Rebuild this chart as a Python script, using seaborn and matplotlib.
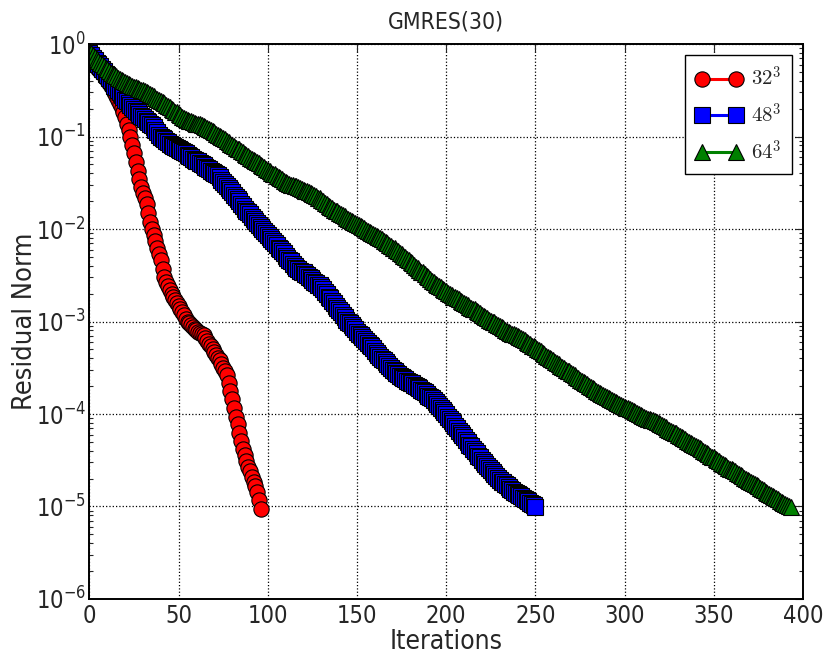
import numpy as np
import pandas as pd
import matplotlib
matplotlib.use("Agg")
import matplotlib.pyplot as plt
import seaborn as sns
from matplotlib.ticker import LogLocator, NullFormatter

# ---- data: -log10(residual norm) per iteration ----
neglog_32 = [
    0.19, 0.20, 0.22, 0.23, 0.25, 0.27, 0.29, 0.31, 0.34, 0.36,
    0.39, 0.42, 0.45, 0.48, 0.52, 0.56, 0.60, 0.65, 0.69, 0.74,
    0.79, 0.86, 0.93, 1.00, 1.09, 1.18, 1.28, 1.37, 1.46, 1.55,
    1.61, 1.67, 1.73, 1.83, 1.92, 2.00, 2.07, 2.13, 2.20, 2.27,
    2.34, 2.43, 2.52, 2.57, 2.62, 2.66, 2.70, 2.74, 2.77, 2.80,
    2.83, 2.86, 2.90, 2.93, 2.97, 3.00, 3.02, 3.04, 3.06, 3.08,
    3.09, 3.11, 3.12, 3.14, 3.15, 3.18, 3.21, 3.24, 3.27, 3.30,
    3.33, 3.36, 3.39, 3.42, 3.46, 3.50, 3.54, 3.58, 3.66, 3.75,
    3.84, 3.93, 4.03, 4.11, 4.20, 4.29, 4.38, 4.44, 4.51, 4.57,
    4.62, 4.68, 4.73, 4.78, 4.84, 4.93, 5.03,
]

neglog_48 = [
    0.10, 0.12, 0.15, 0.17, 0.20, 0.22, 0.24, 0.27, 0.29, 0.32,
    0.34, 0.37, 0.39, 0.42, 0.45, 0.47, 0.50, 0.52, 0.55, 0.57,
    0.60, 0.62, 0.64, 0.66, 0.68, 0.70, 0.72, 0.74, 0.76, 0.78,
    0.79, 0.81, 0.83, 0.84, 0.86, 0.88, 0.90, 0.93, 0.95, 0.98,
    1.00, 1.02, 1.03, 1.05, 1.06, 1.08, 1.09, 1.10, 1.11, 1.12,
    1.13, 1.15, 1.16, 1.17, 1.18, 1.20, 1.21, 1.22, 1.24, 1.25,
    1.26, 1.27, 1.29, 1.30, 1.31, 1.33, 1.34, 1.35, 1.37, 1.38,
    1.39, 1.41, 1.42, 1.44, 1.47, 1.49, 1.51, 1.53, 1.56, 1.58,
    1.60, 1.63, 1.65, 1.68, 1.70, 1.73, 1.75, 1.78, 1.80, 1.82,
    1.84, 1.87, 1.89, 1.91, 1.93, 1.96, 1.98, 2.00, 2.02, 2.04,
    2.07, 2.09, 2.11, 2.13, 2.15, 2.17, 2.20, 2.22, 2.24, 2.26,
    2.29, 2.31, 2.33, 2.35, 2.38, 2.40, 2.42, 2.43, 2.45, 2.46,
    2.47, 2.49, 2.50, 2.52, 2.53, 2.55, 2.57, 2.58, 2.60, 2.61,
    2.63, 2.65, 2.68, 2.70, 2.73, 2.75, 2.78, 2.80, 2.83, 2.85,
    2.88, 2.90, 2.93, 2.95, 2.98, 3.00, 3.02, 3.04, 3.06, 3.08,
    3.11, 3.13, 3.15, 3.17, 3.19, 3.21, 3.23, 3.25, 3.27, 3.29,
    3.32, 3.34, 3.36, 3.38, 3.40, 3.42, 3.44, 3.46, 3.48, 3.50,
    3.52, 3.54, 3.56, 3.57, 3.59, 3.60, 3.61, 3.62, 3.64, 3.65,
    3.66, 3.67, 3.69, 3.70, 3.71, 3.72, 3.74, 3.75, 3.76, 3.78,
    3.80, 3.82, 3.83, 3.85, 3.87, 3.89, 3.91, 3.93, 3.96, 3.98,
    4.00, 4.03, 4.05, 4.08, 4.10, 4.13, 4.15, 4.18, 4.20, 4.23,
    4.25, 4.28, 4.30, 4.33, 4.35, 4.38, 4.40, 4.42, 4.45, 4.47,
    4.50, 4.52, 4.54, 4.56, 4.58, 4.61, 4.63, 4.65, 4.67, 4.69,
    4.71, 4.73, 4.74, 4.76, 4.77, 4.79, 4.81, 4.82, 4.84, 4.85,
    4.87, 4.88, 4.89, 4.91, 4.92, 4.93, 4.94, 4.96, 4.97, 4.98,
    5.01,
]

neglog_64 = [
    0.08, 0.10, 0.12, 0.14, 0.16, 0.18, 0.20, 0.22, 0.24, 0.26,
    0.27, 0.29, 0.31, 0.32, 0.34, 0.35, 0.37, 0.38, 0.39, 0.40,
    0.41, 0.42, 0.43, 0.44, 0.45, 0.46, 0.47, 0.48, 0.49, 0.50,
    0.50, 0.51, 0.52, 0.53, 0.54, 0.55, 0.56, 0.58, 0.59, 0.60,
    0.62, 0.63, 0.64, 0.66, 0.67, 0.68, 0.70, 0.71, 0.73, 0.74,
    0.76, 0.77, 0.79, 0.80, 0.81, 0.82, 0.83, 0.83, 0.84, 0.85,
    0.86, 0.87, 0.87, 0.88, 0.89, 0.90, 0.91, 0.92, 0.93, 0.94,
    0.95, 0.97, 0.98, 0.99, 1.01, 1.02, 1.03, 1.05, 1.06, 1.08,
    1.09, 1.10, 1.12, 1.13, 1.14, 1.16, 1.17, 1.19, 1.20, 1.21,
    1.23, 1.24, 1.25, 1.27, 1.28, 1.29, 1.31, 1.32, 1.33, 1.35,
    1.36, 1.37, 1.39, 1.40, 1.41, 1.43, 1.44, 1.45, 1.46, 1.48,
    1.49, 1.50, 1.51, 1.52, 1.52, 1.53, 1.54, 1.55, 1.56, 1.57,
    1.58, 1.59, 1.59, 1.60, 1.61, 1.62, 1.63, 1.64, 1.66, 1.67,
    1.69, 1.70, 1.72, 1.73, 1.75, 1.76, 1.77, 1.79, 1.80, 1.81,
    1.83, 1.84, 1.85, 1.86, 1.88, 1.89, 1.90, 1.91, 1.92, 1.93,
    1.95, 1.96, 1.97, 1.98, 1.99, 2.01, 2.02, 2.03, 2.04, 2.05,
    2.07, 2.08, 2.09, 2.10, 2.11, 2.13, 2.14, 2.15, 2.17, 2.18,
    2.20, 2.21, 2.23, 2.24, 2.26, 2.27, 2.29, 2.30, 2.32, 2.34,
    2.36, 2.37, 2.39, 2.41, 2.42, 2.44, 2.46, 2.47, 2.49, 2.51,
    2.52, 2.54, 2.56, 2.57, 2.59, 2.60, 2.62, 2.63, 2.65, 2.66,
    2.67, 2.69, 2.70, 2.71, 2.73, 2.74, 2.75, 2.76, 2.78, 2.79,
    2.80, 2.81, 2.82, 2.84, 2.85, 2.86, 2.87, 2.89, 2.90, 2.91,
    2.93, 2.94, 2.95, 2.96, 2.98, 2.99, 3.00, 3.01, 3.03, 3.04,
    3.05, 3.06, 3.07, 3.09, 3.10, 3.11, 3.12, 3.13, 3.14, 3.15,
    3.16, 3.17, 3.18, 3.19, 3.20, 3.22, 3.23, 3.24, 3.26, 3.27,
    3.28, 3.30, 3.31, 3.32, 3.34, 3.35, 3.37, 3.38, 3.39, 3.41,
    3.42, 3.44, 3.45, 3.46, 3.48, 3.49, 3.50, 3.52, 3.53, 3.54,
    3.56, 3.57, 3.58, 3.60, 3.61, 3.63, 3.64, 3.65, 3.67, 3.68,
    3.70, 3.71, 3.72, 3.73, 3.75, 3.76, 3.77, 3.78, 3.79, 3.81,
    3.82, 3.83, 3.84, 3.85, 3.86, 3.87, 3.88, 3.89, 3.90, 3.91,
    3.92, 3.93, 3.94, 3.95, 3.96, 3.97, 3.98, 3.99, 4.00, 4.01,
    4.02, 4.03, 4.04, 4.05, 4.05, 4.06, 4.07, 4.08, 4.09, 4.10,
    4.11, 4.12, 4.13, 4.14, 4.16, 4.17, 4.18, 4.19, 4.20, 4.21,
    4.23, 4.24, 4.25, 4.26, 4.27, 4.29, 4.30, 4.31, 4.32, 4.34,
    4.35, 4.36, 4.37, 4.38, 4.40, 4.41, 4.42, 4.43, 4.45, 4.46,
    4.47, 4.49, 4.50, 4.51, 4.53, 4.54, 4.55, 4.56, 4.58, 4.59,
    4.60, 4.61, 4.62, 4.64, 4.65, 4.66, 4.67, 4.69, 4.70, 4.71,
    4.72, 4.73, 4.75, 4.76, 4.77, 4.78, 4.80, 4.81, 4.82, 4.84,
    4.85, 4.86, 4.88, 4.89, 4.90, 4.91, 4.92, 4.94, 4.95, 4.96,
    4.97, 4.98, 4.99, 5.01,
]

series_labels = [r"$32^3$", r"$48^3$", r"$64^3$"]
series_colors = ["#ff0000", "#0000ff", "#008000"]
series_markers = ["o", "s", "^"]
x_ticks = [0, 50, 100, 150, 200, 250, 300, 350, 400]

frames = []
for lab, nl in zip(series_labels, [neglog_32, neglog_48, neglog_64]):
    nl = np.asarray(nl)
    frames.append(pd.DataFrame({"Iterations": np.arange(len(nl)),
                                "Residual": 10.0 ** (-nl),
                                "grid": lab}))

# ---- style ----
sns.set_style("white")
plt.rcParams.update({
    "font.family": ["DejaVu Sans"],
    "font.stretch": "condensed",
    "xtick.direction": "in", "ytick.direction": "in",
    "xtick.top": True, "ytick.right": True,
    "xtick.major.size": 6, "ytick.major.size": 6,
    "xtick.minor.size": 3, "ytick.minor.size": 3,
    "xtick.major.width": 0.8, "ytick.major.width": 0.8,
    "ytick.minor.width": 0.8,
    "axes.linewidth": 1.4,
    "axes.edgecolor": "black",
})

fig = plt.figure(figsize=(8.33, 6.56), dpi=100)
ax = fig.add_axes([0.1074, 0.0869, 0.8566, 0.846])

for df, col, mk, lab in zip(frames, series_colors, series_markers, series_labels):
    sns.lineplot(data=df, x="Iterations", y="Residual", ax=ax, color=col,
                 marker=mk, markersize=11, markeredgecolor="black",
                 markeredgewidth=0.8, linewidth=2.2, label=lab,
                 estimator=None, sort=False)

ax.set_yscale("log")
ax.set_xlim(0, 400)
ax.set_ylim(1e-6, 1)
ax.set_xticks(x_ticks)
ax.yaxis.set_major_locator(LogLocator(base=10, numticks=10))
ax.yaxis.set_minor_locator(LogLocator(base=10, subs=np.arange(2, 10), numticks=20))
ax.yaxis.set_minor_formatter(NullFormatter())
ax.tick_params(axis="x", which="major", labelsize=17, pad=3.5)
ax.tick_params(axis="y", which="major", labelsize=17, pad=2.5)
ax.tick_params(axis="y", which="minor", left=True, right=True)

ax.grid(True, which="major", linestyle=":", color="black", linewidth=0.9)
ax.set_axisbelow(True)

ax.set_xlabel("Iterations", fontsize=19, labelpad=0.5)
ax.set_ylabel("Residual Norm", fontsize=19.5, labelpad=-2)
ax.set_title("GMRES(30)", fontsize=16.5, pad=11)

for s in ax.spines.values():
    s.set_visible(True)
    s.set_color("black")

leg = ax.legend(loc="upper right", numpoints=2, fontsize=15, frameon=True,
                fancybox=False, shadow=False, framealpha=1, edgecolor="black",
                handlelength=2.25, labelspacing=0.6, borderpad=0.5,
                handletextpad=0.4, borderaxespad=0.55)
leg.get_frame().set_linewidth(1.0)
for t in leg.get_texts():
    t.set_math_fontfamily("cm")

fig.savefig("out.png", dpi=100)
